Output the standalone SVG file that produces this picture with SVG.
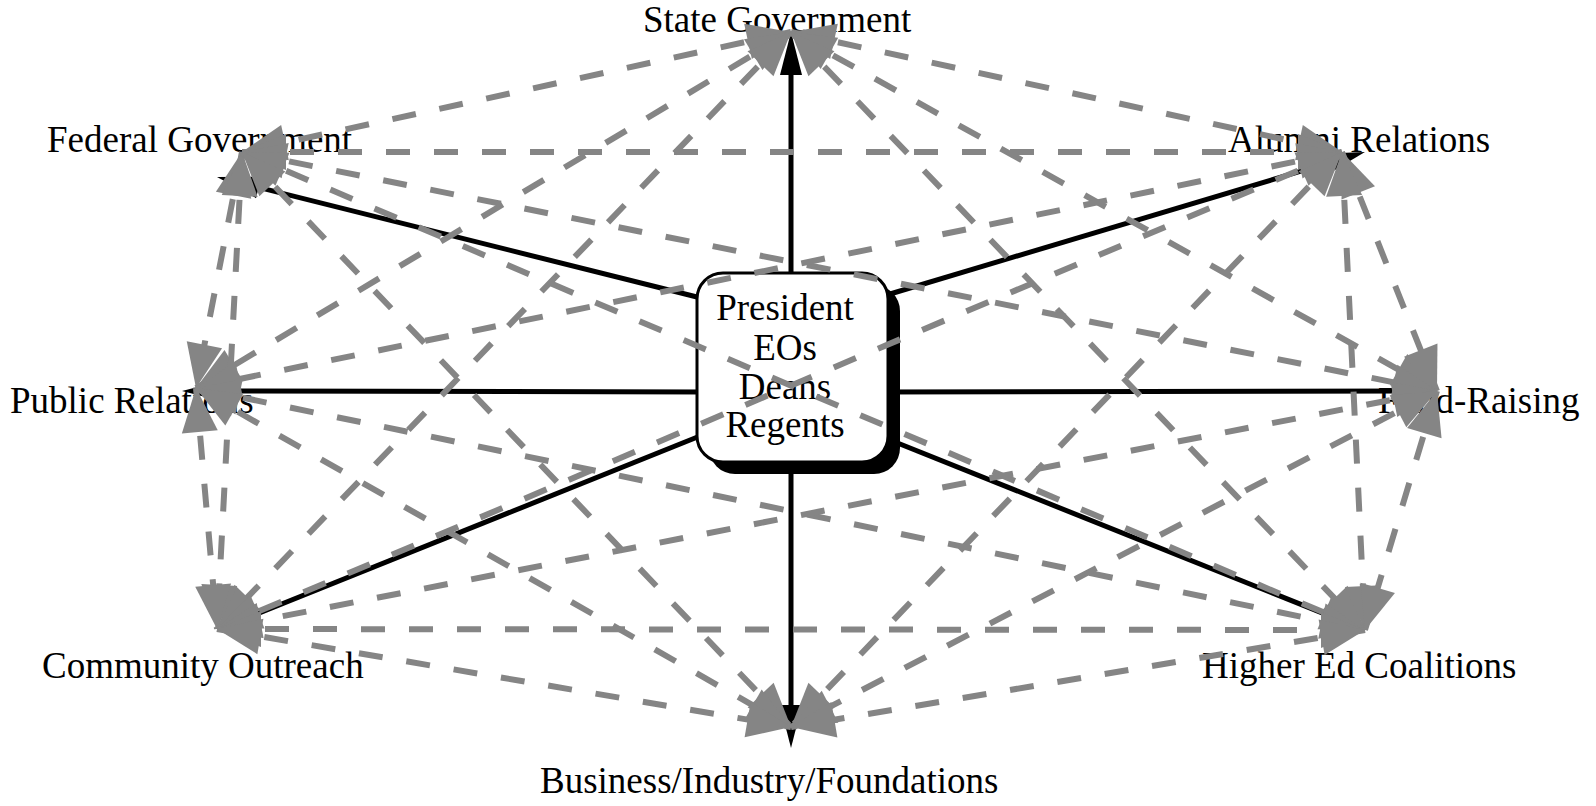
<svg xmlns="http://www.w3.org/2000/svg" width="1596" height="806" viewBox="0 0 1596 806">
<defs>
<style>
.lbl{font-family:"Liberation Serif","Times New Roman",serif;font-size:37px;fill:#000}
.ctr{font-family:"Liberation Serif","Times New Roman",serif;font-size:37px;fill:#000;text-anchor:middle}
.spoke{stroke:#000;stroke-width:5;fill:none;marker-end:url(#blk)}
.dash{stroke:#858585;stroke-width:6;stroke-dasharray:24 24;fill:none;marker-start:url(#gry);marker-end:url(#gry)}
</style>
<marker id="blk" markerUnits="userSpaceOnUse" markerWidth="43" markerHeight="22" refX="23" refY="11" orient="auto" overflow="visible">
<path d="M0,0 L43,11 L0,22 z" fill="#000"/>
</marker>
<marker id="gry" markerUnits="userSpaceOnUse" markerWidth="44" markerHeight="36" refX="44" refY="18" orient="auto-start-reverse" overflow="visible">
<path d="M0,0 L44,18 L0,36 z" fill="#858585"/>
</marker>
</defs>
<rect width="1596" height="806" fill="#fff"/>
<g id="node-state"><text class="lbl" x="643" y="32">State Government</text></g>
<g id="node-federal"><text class="lbl" x="47" y="152">Federal Government</text></g>
<g id="node-alumni"><text class="lbl" x="1228" y="152">Alumni Relations</text></g>
<g id="node-public"><text class="lbl" x="10" y="413">Public Relations</text></g>
<g id="node-fund"><text class="lbl" x="1378" y="413">Fund-Raising</text></g>
<g id="node-community"><text class="lbl" x="42" y="678">Community Outreach</text></g>
<g id="node-higher"><text class="lbl" x="1202" y="678">Higher Ed Coalitions</text></g>
<g id="node-business"><text class="lbl" x="540" y="793">Business/Industry/Foundations</text></g>
<g id="spokes">
<line class="spoke" x1="791" y1="290" x2="791" y2="52"/>
<line class="spoke" x1="705" y1="299" x2="236.4" y2="181.9"/>
<line class="spoke" x1="880" y1="297" x2="1345.8" y2="157.7"/>
<line class="spoke" x1="705" y1="392" x2="202" y2="391"/>
<line class="spoke" x1="880" y1="392" x2="1417" y2="391"/>
<line class="spoke" x1="705" y1="434" x2="235.6" y2="622.5"/>
<line class="spoke" x1="890" y1="440" x2="1346.4" y2="622.6"/>
<line class="spoke" x1="791" y1="450" x2="791" y2="728"/>
</g>
<g id="node-center">
<rect x="709" y="285" width="191" height="189" rx="26" fill="#000"/>
<rect x="697" y="273" width="191" height="189" rx="26" fill="#fff" stroke="#000" stroke-width="3"/>
<text class="ctr" x="785" y="320">President</text>
<text class="ctr" x="785" y="360">EOs</text>
<text class="ctr" x="785" y="399">Deans</text>
<text class="ctr" x="785" y="437">Regents</text>
</g>
<g id="connectors">
<line class="dash" x1="791" y1="32" x2="242" y2="152"/>
<line class="dash" x1="791" y1="32" x2="1342" y2="152"/>
<line class="dash" x1="791" y1="32" x2="196" y2="388"/>
<line class="dash" x1="791" y1="32" x2="1437" y2="391"/>
<line class="dash" x1="791" y1="32" x2="217" y2="629"/>
<line class="dash" x1="791" y1="32" x2="1365" y2="630"/>
<line class="dash" x1="242" y1="152" x2="1342" y2="152"/>
<line class="dash" x1="242" y1="152" x2="196" y2="388"/>
<line class="dash" x1="242" y1="152" x2="1437" y2="391"/>
<line class="dash" x1="242" y1="152" x2="217" y2="629"/>
<line class="dash" x1="242" y1="152" x2="1365" y2="630"/>
<line class="dash" x1="242" y1="152" x2="791" y2="727"/>
<line class="dash" x1="1342" y1="152" x2="196" y2="388"/>
<line class="dash" x1="1342" y1="152" x2="1437" y2="391"/>
<line class="dash" x1="1342" y1="152" x2="217" y2="629"/>
<line class="dash" x1="1342" y1="152" x2="1365" y2="630"/>
<line class="dash" x1="1342" y1="152" x2="791" y2="727"/>
<line class="dash" x1="196" y1="388" x2="217" y2="629"/>
<line class="dash" x1="196" y1="388" x2="1365" y2="630"/>
<line class="dash" x1="196" y1="388" x2="791" y2="727"/>
<line class="dash" x1="1437" y1="391" x2="217" y2="629"/>
<line class="dash" x1="1437" y1="391" x2="1365" y2="630"/>
<line class="dash" x1="1437" y1="391" x2="791" y2="727"/>
<line class="dash" x1="217" y1="629" x2="1365" y2="630"/>
<line class="dash" x1="217" y1="629" x2="791" y2="727"/>
<line class="dash" x1="1365" y1="630" x2="791" y2="727"/>
</g>
</svg>
